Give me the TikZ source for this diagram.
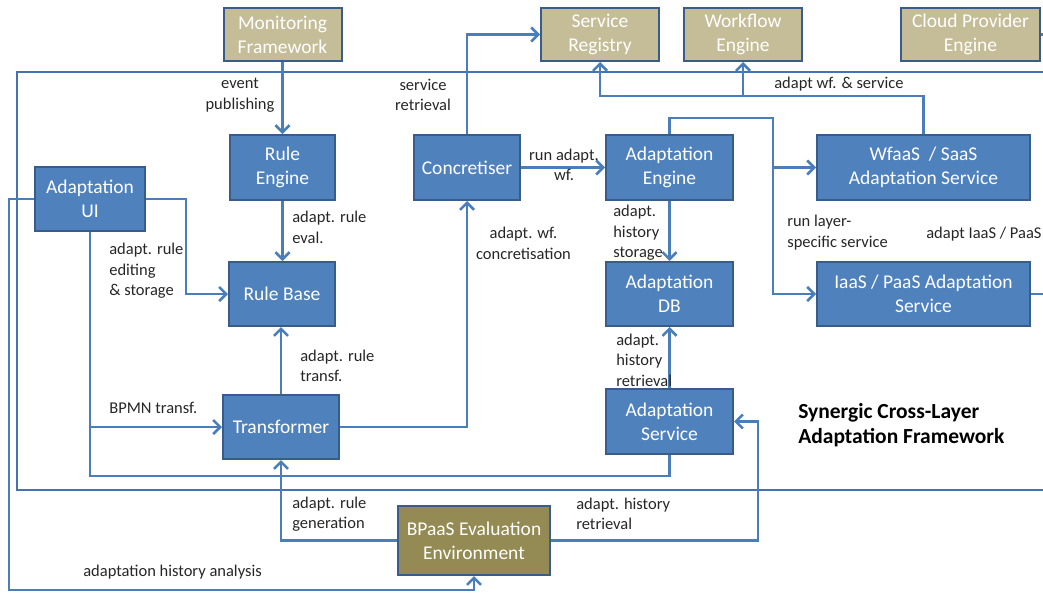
\documentclass[tikz,border=0pt]{standalone}
\usepackage{fontspec}
\setmainfont{Carlito}
\usepackage{tikz}
\usetikzlibrary{arrows.meta,positioning}

\definecolor{linkblue}{HTML}{4A7EBB}
\definecolor{framblue}{HTML}{4572B0}
\definecolor{boxblue}{HTML}{4F81BD}
\definecolor{boxedge}{HTML}{385D8A}
\definecolor{exttan}{HTML}{C4BD97}
\definecolor{evalbrown}{HTML}{948A54}
\definecolor{labelgrey}{HTML}{262626}

\newcommand{\boxfont}{\fontsize{19.5}{24}\selectfont}
\newcommand{\lblfont}{\fontsize{16.5}{20.5}\selectfont}
\newcommand{\titlefont}{\fontsize{21.5}{25}\selectfont\bfseries}

\begin{document}
\begin{tikzpicture}[->,>={Straight Barb[length=7pt,width=14pt]},x=1pt,y=-1pt,color=linkblue,line width=2.6pt]
    \tikzstyle{ext}=[draw=boxedge, fill=exttan, line width=2pt, text=white, align=center, inner sep=0pt, font=\boxfont, minimum width=118, minimum height=53]
    \tikzstyle{comp}=[ext, fill=boxblue, minimum height=65]
    \tikzstyle{lbl}=[text=labelgrey, font=\lblfont, inner sep=0pt, align=left]

    \useasboundingbox (0,0) rectangle (1043,595);

    % external engines
    \node[ext] (mon) at (282.5, 34.5) {Monitoring\\Framework};
    \node[ext] (sreg) at (600, 34.5) {Service\\Registry};
    \node[ext] (wfe) at (743, 34.5) {Workflow\\Engine};
    \node[ext, minimum width=139] (cpe) at (970.5, 34.5) {Cloud Provider\\Engine};

    % framework components
    \node[comp, minimum width=105] (re) at (282.5, 167.5) {Rule\\Engine};
    \node[comp, minimum width=106] (conc) at (467, 167.5) {Concretiser};
    \node[comp, minimum width=127] (ae) at (669.5, 167.5) {Adaptation\\Engine};
    \node[comp, minimum width=213] (wfaas) at (923.5, 167.5) {WfaaS~~/ SaaS\\Adaptation Service};
    \node[comp, minimum width=110, minimum height=64] (ui) at (90, 199) {Adaptation\\UI};
    \node[comp, minimum width=106, minimum height=64] (rb) at (282, 294) {Rule Base};
    \node[comp, minimum width=127, minimum height=64] (db) at (669.5, 294) {Adaptation\\DB};
    \node[comp, minimum width=213, minimum height=64] (iaas) at (923.5, 294) {IaaS / PaaS Adaptation\\Service};
    \node[comp, minimum width=116, minimum height=64] (tr) at (281, 427) {Transformer};
    \node[comp, minimum width=127] (as) at (669.5, 421.5) {Adaptation\\Service};
    \node[ext, fill=evalbrown, minimum width=152, minimum height=69] (bpaas) at (474, 540.5) {BPaaS Evaluation\\Environment};

    \node[text=black, font=\titlefont, inner sep=0pt, align=left, anchor=west] (title) at (797, 425.5) {Synergic Cross-Layer\\Adaptation Framework};

    % framework border
    \draw[-, color=framblue, line width=2.4pt] (1043,72) -- (17,72) -- (17,490) -- (1043,490);

    % connectors
    \draw (mon) -- (re);
    \draw (re.south) -- (re.south |- rb.north);
    \draw (tr.north) -- (tr.north |- rb.south);
    \draw (ui.east) -- ++(40,0) |- (rb.west);
    \draw[-] (ui.south) -- ++(0,244) -| (as.south);
    \draw (ui.south |- tr.west) -- (tr.west);
    \draw (ui.west) -- ++(-25,0) -- ++(0,391) -| (bpaas.south);
    \draw (tr.east) -| (conc.south);
    \draw (conc.north) |- (sreg.west);
    \draw (conc) -- (ae);
    \coordinate (runsplit) at (773,118);
    \draw (ae.north) |- (runsplit) |- (iaas.west);
    \draw (runsplit |- wfaas.west) -- (wfaas.west);
    \draw (wfaas.north) -- ++(0,-38) -| (sreg.south);
    \draw (wfe.south |- 0,97) -- (wfe.south);
    \draw (ae) -- (db);
    \draw (as) -- (db);
    \draw (bpaas.west) -| (tr.south);
    \draw (bpaas.east) -| ([xshift=24pt]as.east) -- (as.east);
    \coordinate (cpeout) at (1043,34.5);
    \coordinate (iaasout) at (1043,294);
    \draw[-] (cpe.east) -- (cpeout);
    \draw[-] (iaas.east) -- (iaasout);

    % connector labels
    \node[lbl, align=center] (levent) at (240, 95) {event\\publishing};
    \node[lbl, align=center] (lsret) at (423, 95) {service\\retrieval};
    \node[lbl, anchor=west] (leval) at (291, 227.5) {adapt. rule\\eval.};
    \node[lbl, anchor=west] (ledit) at (108, 271) {adapt. rule\\editing\\\& storage};
    \node[lbl, anchor=west] (lbpmn) at (108, 408) {BPMN transf.};
    \node[lbl, anchor=west] (ltransf) at (299, 366) {adapt. rule\\transf.};
    \node[lbl, align=center] (lconcr) at (523.5, 243.5) {adapt. wf.\\concretisation};
    \node[lbl, align=center] (lrunwf) at (564, 165) {run adapt.\\wf.};
    \node[lbl, anchor=west] (lstore) at (612, 233) {adapt.\\history\\storage};
    \node[lbl, anchor=west] (lwfsrv) at (773, 84) {adapt wf. \& service};
    \node[lbl, anchor=west] (llayer) at (786, 232.5) {run layer-\\specific service};
    \node[lbl, anchor=west] (liaas) at (925, 234) {adapt IaaS / PaaS};
    \node[lbl, anchor=west] (lretr) at (615, 360) {adapt.\\history\\retrieval};
    \node[lbl, anchor=west] (lgen) at (291, 514) {adapt. rule\\generation};
    \node[lbl, anchor=west] (lhist) at (575, 514) {adapt. history\\retrieval};
    \node[lbl, anchor=west] (lanal) at (82, 572) {adaptation history analysis};
\end{tikzpicture}
\end{document}
